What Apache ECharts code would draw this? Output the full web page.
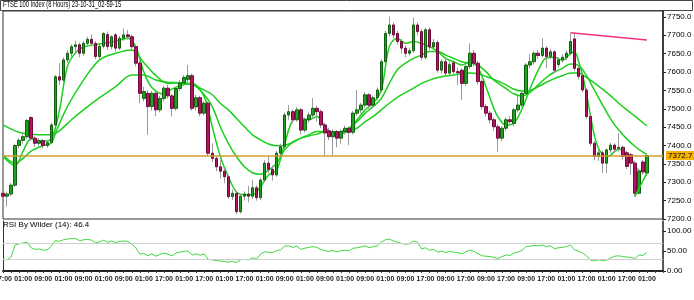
<!DOCTYPE html>
<html><head><meta charset="utf-8">
<script src="https://cdn.jsdelivr.net/npm/echarts@6/dist/echarts.min.js"></script>
<style>html,body{margin:0;padding:0;background:#fff}#c{width:694px;height:300px}</style>
</head><body><div id="c"></div><script>
// ---- data ----
const tickLabels = ["17:00","01:00","09:00","01:00","09:00","01:00","09:00","01:00","17:00","01:00","17:00","01:00","17:00","01:00","09:00","01:00","09:00","01:00","09:00","01:00","09:00","17:00","09:00","17:00","09:00","17:00","09:00","17:00","01:00","17:00","01:00","17:00","01:00"];
const opens  = [7270,7262,7268,7292,7400,7414,7424,7476,7420,7406,7413,7400,7408,7456,7587,7578,7633,7651,7669,7674,7651,7678,7689,7678,7642,7670,7702,7669,7701,7665,7692,7701,7696,7669,7624,7528,7542,7506,7542,7497,7528,7556,7535,7501,7555,7570,7580,7590,7505,7530,7488,7515,7379,7365,7342,7330,7315,7261,7270,7220,7262,7268,7262,7285,7258,7306,7352,7335,7320,7379,7397,7483,7492,7470,7497,7442,7470,7483,7501,7492,7456,7440,7424,7438,7420,7438,7447,7436,7488,7497,7510,7538,7510,7530,7551,7628,7705,7728,7705,7683,7665,7651,7658,7728,7710,7640,7715,7668,7680,7605,7628,7597,7625,7601,7605,7569,7615,7651,7624,7574,7506,7488,7470,7451,7420,7447,7470,7460,7497,7510,7542,7619,7628,7651,7645,7665,7642,7655,7620,7633,7640,7651,7690,7610,7590,7551,7479,7406,7370,7380,7352,7388,7401,7392,7395,7380,7375,7352,7270,7355,7325];
const closes = [7262,7268,7292,7400,7414,7424,7468,7420,7406,7413,7400,7408,7456,7587,7578,7633,7651,7669,7674,7651,7678,7689,7678,7642,7670,7705,7669,7696,7665,7692,7701,7696,7669,7624,7542,7547,7506,7542,7497,7528,7556,7535,7501,7555,7570,7585,7590,7501,7530,7488,7515,7379,7365,7342,7330,7315,7261,7270,7220,7262,7268,7262,7285,7258,7306,7352,7335,7320,7379,7397,7483,7492,7470,7497,7442,7470,7483,7501,7492,7456,7434,7424,7438,7420,7438,7447,7436,7488,7497,7510,7538,7510,7530,7551,7628,7705,7728,7701,7683,7665,7651,7658,7728,7710,7640,7715,7668,7680,7605,7628,7597,7620,7601,7598,7569,7615,7651,7624,7574,7506,7488,7470,7451,7420,7447,7470,7465,7497,7510,7542,7619,7628,7651,7645,7665,7642,7655,7605,7633,7640,7651,7683,7610,7588,7551,7479,7406,7370,7380,7352,7388,7401,7390,7395,7370,7343,7352,7270,7330,7328,7372.7];
const lows   = [7250,7234,7262,7288,7392,7405,7418,7412,7396,7398,7392,7394,7404,7452,7565,7572,7625,7640,7655,7640,7645,7670,7670,7635,7636,7664,7660,7662,7655,7660,7685,7688,7660,7615,7515,7520,7429,7495,7480,7490,7520,7528,7479,7495,7548,7562,7572,7495,7495,7480,7482,7372,7355,7330,7310,7297,7255,7252,7213,7215,7250,7245,7255,7250,7252,7300,7325,7305,7315,7370,7390,7470,7460,7465,7430,7435,7462,7476,7465,7448,7374,7415,7374,7395,7405,7430,7401,7430,7480,7488,7502,7500,7504,7524,7546,7622,7698,7692,7675,7650,7640,7645,7652,7700,7632,7635,7660,7660,7598,7596,7590,7588,7594,7565,7524,7562,7608,7615,7566,7498,7478,7460,7440,7383,7412,7440,7455,7452,7490,7504,7538,7610,7620,7636,7640,7610,7635,7596,7612,7625,7632,7645,7602,7580,7545,7472,7398,7360,7358,7325,7325,7380,7382,7384,7362,7336,7320,7261,7268,7320,7318];
const highs  = [7278,7275,7298,7405,7420,7432,7472,7480,7425,7420,7418,7415,7462,7592,7624,7640,7660,7675,7685,7680,7684,7696,7702,7684,7676,7708,7710,7700,7706,7698,7719,7714,7702,7675,7630,7560,7550,7548,7550,7535,7562,7565,7540,7560,7578,7592,7619,7596,7538,7535,7520,7520,7406,7372,7360,7338,7320,7280,7276,7268,7275,7290,7306,7292,7312,7360,7370,7345,7385,7405,7490,7510,7498,7505,7502,7476,7490,7529,7508,7498,7462,7448,7444,7442,7444,7454,7452,7494,7551,7516,7545,7542,7536,7558,7635,7712,7751,7735,7712,7690,7672,7666,7748,7735,7716,7720,7722,7690,7686,7635,7640,7628,7632,7612,7610,7620,7678,7660,7630,7580,7512,7494,7476,7458,7452,7476,7480,7502,7535,7548,7624,7648,7656,7660,7692,7670,7662,7660,7640,7648,7658,7705,7707,7616,7596,7556,7484,7412,7388,7386,7392,7408,7406,7433,7400,7385,7380,7358,7336,7360,7376];
const rsi = [30,28,35,65,68,70,72,58,54,55,52,53,62,76,74,78,80,81,81,76,78,79,77,70,73,77,72,75,71,74,75,74,68,58,42,44,38,43,37,41,45,42,38,45,47,49,50,40,43,39,43,29,28,26,25,24,22,24,21,28,29,28,33,30,42,48,47,46,51,53,62,63,59,62,54,57,59,61,59,54,51,49,51,48,51,52,50,57,58,60,63,58,61,63,72,78,80,75,72,69,67,68,75,72,55,58,52,54,47,50,46,49,47,46,43,48,52,49,44,38,37,36,34,31,36,40,39,45,47,52,61,62,64,63,65,61,63,56,58,59,61,65,53,50,45,38,27,25,28,26,27,33,37,38,36,35,34,31,40,39,46.4];
const maFast = [[0,7370],[3,7345],[5,7385],[7,7418],[10,7412],[12,7418],[14,7495],[16,7615],[18,7652],[20,7668],[24,7676],[28,7684],[31,7692],[33,7668],[35,7600],[37,7558],[40,7540],[41,7548],[44,7563],[47,7569],[50,7533],[52,7451],[54,7370],[56,7315],[58,7274],[60,7266],[62,7266],[64,7288],[66,7320],[68,7333],[70,7406],[72,7468],[74,7474],[76,7470],[78,7479],[80,7451],[82,7433],[84,7433],[86,7442],[88,7470],[90,7497],[92,7515],[94,7551],[96,7669],[98,7692],[100,7678],[102,7683],[104,7678],[106,7669],[108,7656],[110,7637],[112,7628],[114,7619],[116,7628],[118,7612],[120,7560],[122,7500],[123,7478],[125,7455],[127,7462],[129,7500],[131,7555],[133,7605],[135,7638],[137,7640],[139,7632],[141,7650],[142,7655],[143,7630],[144,7592],[145,7540],[146,7480],[147,7425],[148,7392],[149,7376],[150,7370],[151,7374],[152,7384],[153,7390],[154,7387],[155,7377],[156,7368],[157,7345],[158,7332],[159,7330],[160,7338]];
const maMid = [[0,7375],[3,7352],[5,7365],[7,7385],[10,7400],[12,7406],[13,7433],[16,7506],[20,7578],[24,7633],[28,7651],[32,7660],[35,7625],[38,7590],[41,7569],[44,7571],[47,7567],[50,7538],[52,7506],[54,7451],[56,7406],[58,7370],[60,7342],[62,7326],[64,7322],[66,7333],[68,7352],[70,7388],[72,7410],[74,7420],[76,7429],[78,7438],[80,7438],[82,7433],[84,7438],[86,7447],[88,7465],[90,7488],[92,7506],[94,7528],[96,7569],[98,7606],[100,7624],[102,7637],[104,7646],[106,7656],[108,7656],[110,7646],[112,7637],[114,7628],[116,7624],[118,7619],[120,7601],[122,7578],[125,7555],[127,7540],[129,7535],[131,7545],[133,7565],[135,7585],[137,7600],[139,7610],[141,7622],[143,7618],[145,7590],[147,7550],[149,7510],[151,7472],[153,7442],[155,7418],[157,7398],[159,7382],[160,7376]];
const maSlow = [[0,7456],[4,7436],[8,7430],[12,7429],[14,7440],[17,7470],[20,7497],[24,7530],[28,7560],[32,7592],[35,7592],[38,7578],[41,7572],[44,7571],[47,7565],[50,7551],[52,7538],[54,7515],[56,7497],[58,7474],[60,7451],[62,7429],[64,7415],[66,7404],[68,7399],[70,7401],[72,7408],[74,7420],[76,7426],[78,7431],[80,7438],[82,7436],[84,7433],[86,7438],[88,7447],[90,7465],[92,7479],[94,7497],[96,7515],[98,7531],[100,7544],[102,7556],[104,7569],[106,7578],[108,7585],[110,7589],[112,7592],[114,7595],[116,7597],[118,7595],[120,7588],[122,7580],[125,7565],[127,7553],[129,7548],[131,7550],[133,7560],[135,7572],[137,7582],[139,7590],[141,7597],[143,7597],[145,7585],[147,7570],[149,7553],[151,7535],[153,7515],[155,7497],[157,7480],[159,7462],[160,7453]];
const pinkTrend = [[141,7707],[160,7687]];
const greenTrend = [[157,7261],[160,7325]];
const rsiLevels = [70,30];
const titleText = "FTSE 100 Index (8 Hours) 23-10-31_02-59-15";
const rsiTitle = "RSI By Wilder (14): 46.4";

// ---- build ----
const nCats = 165;
const cats = Array.from({length:nCats},(_,i)=>String(i));
const wickData = opens.map((o,i)=>[o,closes[i],lows[i],highs[i]]);
const bodyData = opens.map((o,i)=>[o,closes[i],Math.min(o,closes[i]),Math.max(o,closes[i])]);
const lastClose = closes[closes.length-1];
const FONT = '"Liberation Sans", Arial, sans-serif';
const maStyle = {color:'#1ccf1c',width:1.5};

const chart = echarts.init(document.getElementById('c'),null,{renderer:'canvas'});
chart.setOption({
  animation:false,
  backgroundColor:'#fff',
  graphic:[
    {type:'rect',shape:{x:0.5,y:0.5,width:692,height:10},style:{fill:'#fff',stroke:'#444',lineWidth:1}},
    {type:'text',x:3,y:0.5,scaleX:0.64,style:{text:titleText,font:'9px "Liberation Sans", Arial, sans-serif',fill:'#000'}},
    {type:'text',x:3,y:221,style:{text:rsiTitle,font:'8px "Liberation Sans", Arial, sans-serif',fill:'#000'}}
  ],
  grid:[
    {left:3,right:31,top:11,height:208,show:true,borderColor:'#333',borderWidth:1,backgroundColor:'#fff',outerBoundsMode:'none'},
    {left:3,right:31,top:221,height:50,outerBoundsMode:'none'}
  ],
  xAxis:[
    {type:'category',gridIndex:0,data:cats,boundaryGap:false,axisLine:{show:false},axisTick:{show:false},axisLabel:{show:false},splitLine:{show:false}},
    {type:'category',gridIndex:1,data:cats,boundaryGap:false,
     axisLine:{show:true,lineStyle:{color:'#222',width:2}},
     axisTick:{show:true,interval:1,length:2,lineStyle:{color:'#444'}},
     axisLabel:{interval:4,margin:5,fontSize:7,fontFamily:FONT,fontWeight:'bold',color:'#222',align:'center',alignMinLabel:'center',alignMaxLabel:'center',
       formatter:(v,idx)=> (idx%5===0 && tickLabels[idx/5]) ? tickLabels[idx/5] : ''},
     splitLine:{show:false}}
  ],
  yAxis:[
    {type:'value',gridIndex:0,position:'right',min:7200,max:7766,interval:50,
     axisLine:{show:true,lineStyle:{color:'#222',width:1.5}},
     axisTick:{show:true,length:3,lineStyle:{color:'#222'}},
     axisLabel:{showMaxLabel:false,margin:4,fontSize:8,fontFamily:FONT,color:'#000',formatter:v=>v.toFixed(1)},
     splitLine:{show:false}},
    {type:'value',gridIndex:1,position:'right',min:0,max:125,interval:50,
     axisLine:{show:true,lineStyle:{color:'#222',width:1.5}},
     axisTick:{show:true,length:3,lineStyle:{color:'#222'}},
     axisLabel:{showMaxLabel:false,margin:4,fontSize:8,fontFamily:FONT,color:'#000',formatter:v=>v.toFixed(2)},
     splitLine:{show:false}},
    {type:'value',gridIndex:1,position:'left',min:0,max:125,
     axisLine:{show:true,lineStyle:{color:'#333',width:1}},axisTick:{show:false},axisLabel:{show:false},splitLine:{show:false}}
  ],
  series:[
    {type:'line',xAxisIndex:0,yAxisIndex:0,data:maSlow,showSymbol:false,smooth:0.35,lineStyle:maStyle,z:2},
    {type:'line',xAxisIndex:0,yAxisIndex:0,data:maMid,showSymbol:false,smooth:0.35,lineStyle:maStyle,z:2},
    {type:'line',xAxisIndex:0,yAxisIndex:0,data:maFast,showSymbol:false,smooth:0.35,lineStyle:maStyle,z:2},
    {type:'candlestick',xAxisIndex:0,yAxisIndex:0,data:wickData,barWidth:1,z:3,
     itemStyle:{color:'#9a9a9a',color0:'#9a9a9a',borderColor:'#9a9a9a',borderColor0:'#9a9a9a',borderWidth:1}},
    {type:'candlestick',xAxisIndex:0,yAxisIndex:0,data:bodyData,barWidth:3,z:4,
     itemStyle:{color:'#22a022',color0:'#b3145f',borderColor:'#0f5f0f',borderColor0:'#6e0b3b',borderWidth:1},
     markLine:{silent:true,symbol:['none','none'],animation:false,
       lineStyle:{color:'#cf9c2f',width:1.5,type:'solid'},
       label:{show:true,position:'end',distance:3,formatter:()=>lastClose.toFixed(1),backgroundColor:'#f6b300',color:'#000',
              fontSize:8,fontFamily:FONT,padding:[1,2,0,2]},
       data:[{yAxis:lastClose}]}},
    {type:'line',xAxisIndex:0,yAxisIndex:0,data:pinkTrend,showSymbol:false,lineStyle:{color:'#f5327f',width:1.5},z:5},
    {type:'line',xAxisIndex:0,yAxisIndex:0,data:greenTrend,showSymbol:false,lineStyle:maStyle,z:5},
    {type:'line',xAxisIndex:1,yAxisIndex:1,data:rsi,showSymbol:false,lineStyle:{color:'#3fd83f',width:1},z:3,
     markLine:{silent:true,symbol:['none','none'],label:{show:false},lineStyle:{color:'#cfcfcf',width:1,type:'solid'},
       data:rsiLevels.map(v=>({yAxis:v}))}}
  ]
});
</script></body></html>
